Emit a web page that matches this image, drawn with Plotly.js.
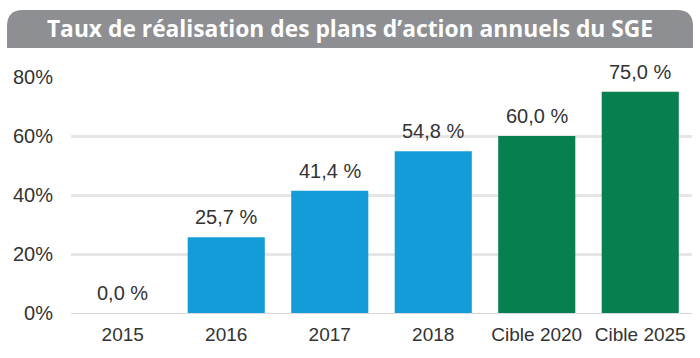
<!DOCTYPE html>
<html>
<head>
<meta charset="utf-8">
<script src="https://cdn.plot.ly/plotly-3.0.1.min.js"></script>
<style>html,body{margin:0;padding:0;background:#fff;}#chart{width:700px;height:358px;}</style>
</head>
<body>
<div id="chart"></div>
<script>
var categories = ["2015", "2016", "2017", "2018", "Cible 2020", "Cible 2025"];
var values = [0.0, 25.7, 41.4, 54.8, 60.0, 75.0];
var barColors = ["#149cd9", "#149cd9", "#149cd9", "#149cd9", "#077f4e", "#077f4e"];
var yTickVals = [0, 20, 40, 60, 80];
var yTickText = ["0%", "20%", "40%", "60%", "80%"];
var titleText = "Taux de réalisation des plans d’action annuels du SGE";

var labels = values.map(function(v){ return v.toFixed(1).replace('.', ',') + ' %'; });

var W = 700, H = 358, ml = 71, mr = 8, mt = 77, mb = 45;
var pw = W - ml - mr, ph = H - mt - mb;
function px2x(p){ return (p - ml) / pw; }
function py2y(p){ return (H - mb - p) / ph; }
var hx0 = px2x(7), hx1 = px2x(693), hy0 = py2y(48), hy1 = py2y(10);
var rx = 16 / pw, ry = 16 / ph;
var headerPath = 'M ' + hx0 + ' ' + hy0 +
  ' L ' + hx0 + ' ' + (hy1 - ry) +
  ' Q ' + hx0 + ' ' + hy1 + ' ' + (hx0 + rx) + ' ' + hy1 +
  ' L ' + (hx1 - rx) + ' ' + hy1 +
  ' Q ' + hx1 + ' ' + hy1 + ' ' + hx1 + ' ' + (hy1 - ry) +
  ' L ' + hx1 + ' ' + hy0 + ' Z';

var trace = {
  type: 'bar',
  x: categories,
  y: values,
  marker: {color: barColors},
  hoverinfo: 'skip'
};

var annotations = categories.map(function(c, i){
  return {
    x: i, y: values[i], xref: 'x', yref: 'y',
    text: labels[i], showarrow: false,
    xanchor: 'center', yanchor: 'bottom', yshift: 7,
    font: {family: 'Liberation Sans, Arial, sans-serif', size: 20, color: '#333333'}
  };
});

var layout = {
  width: W, height: H,
  margin: {l: ml, r: mr, t: mt, b: mb, pad: 0},
  paper_bgcolor: '#ffffff',
  plot_bgcolor: '#ffffff',
  showlegend: false,
  bargap: 0.255,
  title: {
    text: '<b>' + titleText + '</b>',
    font: {family: 'Open Sans, sans-serif', size: 22.8, color: '#ffffff'},
    x: 0.5, xanchor: 'center',
    y: 1 - 29 / H, yanchor: 'middle', yref: 'container'
  },
  xaxis: {
    type: 'category',
    categoryorder: 'array', categoryarray: categories,
    range: [-0.5, categories.length - 0.5],
    showgrid: false,
    showline: true, linecolor: '#d9d9d9', linewidth: 1,
    ticks: '',
    ticklabelstandoff: 4,
    tickfont: {family: 'Liberation Sans, Arial, sans-serif', size: 19, color: '#333333'},
    fixedrange: true
  },
  yaxis: {
    range: [0, 80],
    tickvals: yTickVals,
    ticktext: yTickText,
    showgrid: true, gridcolor: '#e6e6e6', gridwidth: 3,
    zeroline: false,
    showline: false,
    ticks: '',
    ticklabelstandoff: 17,
    tickfont: {family: 'Liberation Sans, Arial, sans-serif', size: 20, color: '#333333'},
    fixedrange: true
  },
  annotations: annotations,
  shapes: [{
    type: 'path', xref: 'paper', yref: 'paper',
    path: headerPath,
    fillcolor: '#8e8f92', line: {width: 0}, layer: 'below'
  }]
};

Plotly.newPlot('chart', [trace], layout, {displayModeBar: false, staticPlot: true});
</script>
</body>
</html>
